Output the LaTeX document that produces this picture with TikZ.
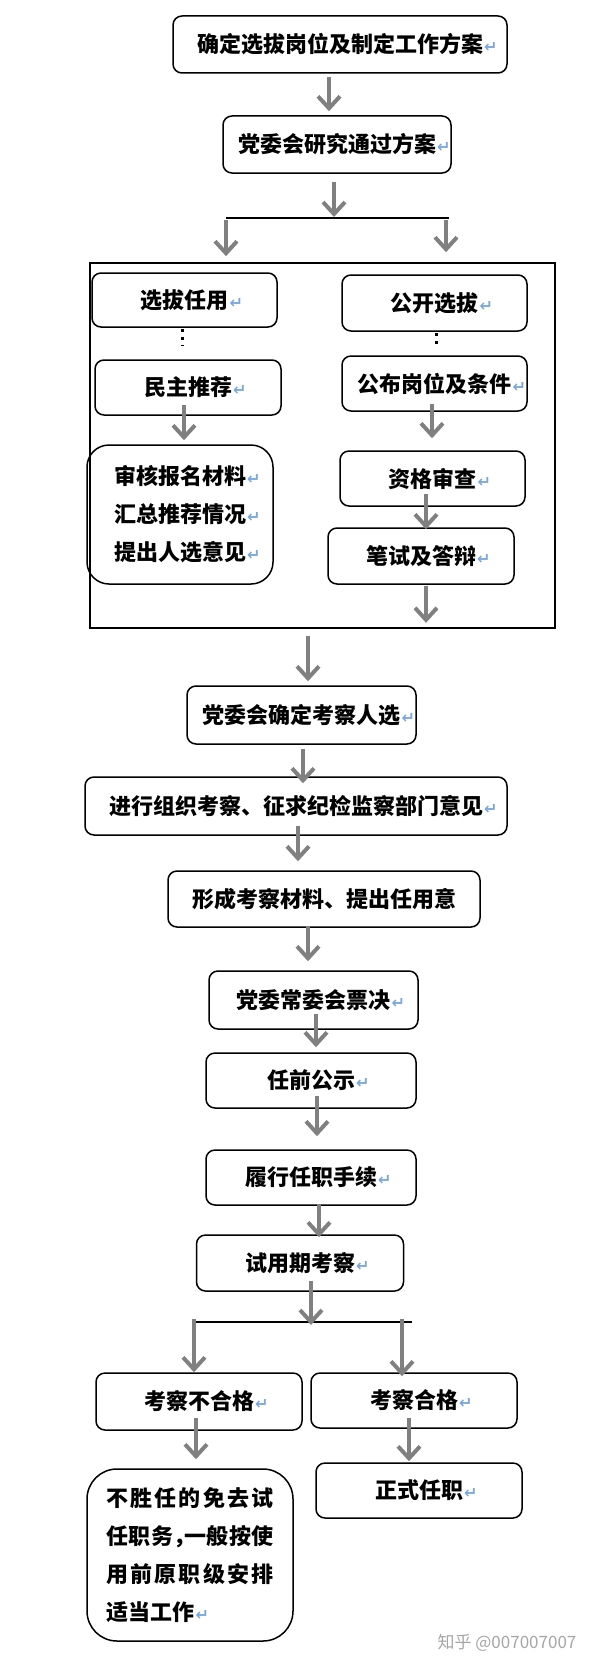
\documentclass[tikz,border=0pt]{standalone}
\usepackage{fontspec}
\usetikzlibrary{arrows.meta}
\newfontfamily\cjk{Noto Sans CJK SC}
\newfontfamily\symf{DejaVu Sans}
\definecolor{markblue}{HTML}{7AA8DE}
\definecolor{arrowgray}{HTML}{808080}
\newcommand{\rt}{\rlap{\hspace{1pt}\symf\fontsize{16}{16}\selectfont\color{markblue}↵}}

\begin{document}
\begin{tikzpicture}[x=1pt,y=-1pt,
	block/.style={draw,rounded corners=9pt,line width=1.5pt,inner sep=0pt,align=center,font=\cjk\bfseries\fontsize{22}{38}\selectfont},
	arr/.style={draw=arrowgray,line width=4pt,-{Straight Barb[length=12pt,width=22pt]}},
	dots/.style={line width=3pt,dash pattern=on 3pt off 5pt}]
	\useasboundingbox (0,0) rectangle (600,1667);
	\node[block,minimum width=334pt,minimum height=57pt] (b1) at (340,44.5) {确定选拔岗位及制定工作方案\rt};
	\node[block,minimum width=228pt,minimum height=57pt] (b2) at (337,144.5) {党委会研究通过方案\rt};
	\coordinate (j1) at (334,218);
	\coordinate (jl) at (226,218);
	\coordinate (jr) at (449,218);
	\node[draw,line width=1.6pt,minimum width=465pt,minimum height=365pt] (frame) at (322.5,445.5) {};
	\node[block,minimum width=185pt,minimum height=54pt] (l1) at (184.5,300) {选拔任用\rt};
	\node[block,minimum width=186pt,minimum height=55pt] (l2) at (188,387.5) {民主推荐\rt};
	\node[block,rounded corners=22pt,minimum width=186pt,minimum height=139pt] (l3) at (180,514.5) {审核报名材料\rt\\汇总推荐情况\rt\\提出人选意见\rt};
	\node[block,minimum width=185pt,minimum height=56pt] (r1) at (434.5,303) {公开选拔\rt};
	\node[block,minimum width=185pt,minimum height=55pt] (r2) at (434.5,383.5) {公布岗位及条件\rt};
	\node[block,minimum width=185pt,minimum height=55pt] (r3) at (432.5,478.5) {资格审查\rt};
	\node[block,minimum width=186pt,minimum height=56pt] (r4) at (421,556) {笔试及答辩\rt};
	\node[block,minimum width=229pt,minimum height=58pt] (c1) at (301.5,715) {党委会确定考察人选\rt};
	\node[block,minimum width=422pt,minimum height=58pt] (c2) at (296,806) {进行组织考察、征求纪检监察部门意见\rt};
	\node[block,minimum width=312pt,minimum height=56pt] (c3) at (324,899) {形成考察材料、提出任用意};
	\node[block,minimum width=209pt,minimum height=58pt] (c4) at (313.5,1000) {党委常委会票决\rt};
	\node[block,minimum width=210pt,minimum height=55pt] (c5) at (311,1080.5) {任前公示\rt};
	\node[block,minimum width=210pt,minimum height=55pt] (c6) at (311,1177.5) {履行任职手续\rt};
	\node[block,minimum width=207pt,minimum height=56pt] (c7) at (300,1263) {试用期考察\rt};
	\coordinate (j2) at (311,1322);
	\coordinate (kl) at (194,1322);
	\coordinate (kr) at (412,1322);
	\node[block,minimum width=206pt,minimum height=57pt] (f1) at (199,1401.5) {考察不合格\rt};
	\node[block,minimum width=206pt,minimum height=55pt] (f2) at (414,1400.5) {考察合格\rt};
	\node[block,rounded corners=30pt,align=left,minimum width=206pt,minimum height=172pt] (f3) at (190,1555) {\makebox[167pt][s]{不\hfill 胜\hfill 任\hfill 的\hfill 免\hfill 去\hfill 试}\\\makebox[167pt][s]{任\hfill 职\hfill 务\makebox[11pt][l]{，}\hfill 一\hfill 般\hfill 按\hfill 使}\\\makebox[167pt][s]{用\hfill 前\hfill 原\hfill 职\hfill 级\hfill 安\hfill 排}\\适当工作\rt};
	\node[block,minimum width=206pt,minimum height=55pt] (f4) at (419,1490.5) {正式任职\rt};
	\node[text=black!35,font=\cjk\fontsize{17}{17}\selectfont] (mark) at (507,1643) {知乎 @007007007};
	\draw[arr,shorten <=3pt,shorten >=4pt] (b1.south -| 329,0) -- (b2.north -| 329,0);
	\draw[line width=1.2pt] (jl) -- (jr);
	\draw[arr,shorten <=8pt,shorten >=1pt] (b2.south -| j1) -- (j1);
	\draw[arr,shorten <=2pt,shorten >=6pt] (jl) -- (frame.north -| jl);
	\draw[arr,shorten <=2pt,shorten >=10pt] (jr -| 446,0) -- (frame.north -| 446,0);
	\draw[dots,shorten <=1pt,shorten >=13pt] (l1.south -| 182,0) -- (l2.north -| 182,0);
	\draw[dots,shorten <=1pt,shorten >=7pt] (r1.south -| 436,0) -- (r2.north -| 436,0);
	\draw[arr,shorten <=-11pt,shorten >=4pt] (l2.south -| 184,0) -- (l3.north -| 184,0);
	\draw[arr,shorten <=-8pt,shorten >=12pt] (r2.south -| 432,0) -- (r3.north -| 432,0);
	\draw[arr,shorten <=-13pt,shorten >=-2pt] (r3.south -| 426,0) -- (r4.north -| 426,0);
	\draw[arr,shorten <=1pt,shorten >=6pt] (r4.south -| 426,0) -- (frame.south -| 426,0);
	\draw[arr,shorten <=7pt,shorten >=4pt] (frame.south -| 308,0) -- (c1.north -| 308,0);
	\draw[arr,shorten <=4pt,shorten >=-7pt] (c1.south -| 303,0) -- (c2.north -| 303,0);
	\draw[arr,shorten <=-10pt,shorten >=9pt] (c2.south -| 298,0) -- (c3.north -| 298,0);
	\draw[arr,shorten <=-2pt,shorten >=9pt] (c3.south -| 308,0) -- (c4.north -| 308,0);
	\draw[arr,shorten <=-16pt,shorten >=5pt] (c4.south -| 316,0) -- (c5.north -| 316,0);
	\draw[arr,shorten <=-13pt,shorten >=13pt] (c5.south -| 317,0) -- (c6.north -| 317,0);
	\draw[arr,shorten <=-2pt,shorten >=-3pt] (c6.south -| 319,0) -- (c7.north -| 319,0);
	\draw[line width=1.2pt] (kl) -- (kr);
	\draw[arr,shorten <=-11pt,shorten >=-3pt] (c7.south -| j2) -- (j2);
	\draw[arr,shorten <=-3pt,shorten >=0pt] (kl) -- (f1.north -| kl);
	\draw[arr,shorten <=-3pt,shorten >=-4pt] (kr -| 402,0) -- (f2.north -| 402,0);
	\draw[arr,shorten <=-13pt,shorten >=9pt] (f1.south -| 196,0) -- (f3.north -| 196,0);
	\draw[arr,shorten <=-11pt,shorten >=1pt] (f2.south -| 409,0) -- (f4.north -| 409,0);
\end{tikzpicture}
\end{document}
